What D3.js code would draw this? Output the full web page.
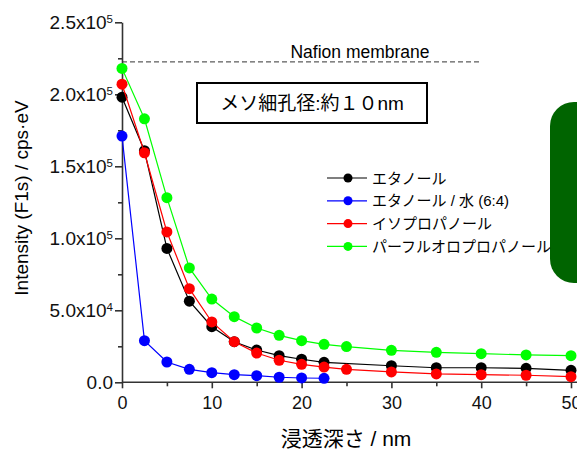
<!DOCTYPE html>
<html>
<head>
<meta charset="utf-8">
<script src="https://cdn.jsdelivr.net/npm/d3@7"></script>
<style>
  body { margin: 0; background: #fff; }
  svg { display: block; font-family: "Liberation Sans", Arial, "Noto Sans CJK JP", sans-serif; }
</style>
</head>
<body>
<div id="chart"></div>
<script>
// depth values (nm)
const depthFull = [0, 2.5, 5, 7.5, 10, 12.5, 15, 17.5, 20, 22.5, 25, 30, 35, 40, 45, 50];
const depthEthanol = [0, 2.5, 5, 7.5, 10, 12.5, 15, 17.5, 20, 22.5, 30, 35, 40, 45, 50];
const depthWater = [0, 2.5, 5, 7.5, 10, 12.5, 15, 17.5, 20, 22.5];

// intensities
const ethanol = [198000, 160800, 93000, 56300, 38600, 28200, 22400, 18500, 16000, 13900, 11500, 10100, 10100, 9700, 8300];
const ethanolWater = [171000, 28900, 14100, 9000, 6700, 5300, 4600, 3500, 3000, 2800];
const isopropanol = [207000, 159400, 104400, 65000, 41900, 28200, 20300, 15300, 12500, 10600, 9000, 7200, 5800, 5300, 4900, 3900];
const perfluoro = [218000, 183000, 128200, 79400, 57800, 45600, 37700, 32600, 28900, 26400, 24800, 22200, 20800, 19900, 19000, 18500];

const seriesNames = ["エタノール", "エタノール / 水 (6:4)", "イソプロパノール", "パーフルオロプロパノール"];
const seriesColors = ["#000000", "#0000ff", "#ff0000", "#00ff00"];

const xTicks = [0, 10, 20, 30, 40, 50];
const xMinorTicks = [5, 15, 25, 35, 45];
const yTicks = [0, 50000, 100000, 150000, 200000, 250000];
const yTickMantissa = ["0.0", "5.0x10", "1.0x10", "1.5x10", "2.0x10", "2.5x10"];
const yTickExponent = ["", "4", "5", "5", "5", "5"];
const yMinorTicks = [25000, 75000, 125000, 175000, 225000];

const membraneLevel = 222500;
const membraneEnd = 40;

const W = 577, H = 452;
const svg = d3.select("#chart").append("svg")
    .attr("width", W)
    .attr("height", H);

// scales
const x = d3.scaleLinear().domain([0, 50]).range([122, 571]);
const y = d3.scaleLinear().domain([0, 250000]).range([382.3, 22.3]);

// green side box (cut off at right edge)
svg.append("rect")
    .attr("x", 550).attr("y", 102)
    .attr("width", 70).attr("height", 181)
    .attr("rx", 24).attr("ry", 24)
    .attr("fill", "#006400");

// dashed Nafion line
svg.append("line")
    .attr("x1", x(0)).attr("x2", x(membraneEnd))
    .attr("y1", y(membraneLevel)).attr("y2", y(membraneLevel))
    .attr("stroke", "#333")
    .attr("stroke-width", 1)
    .attr("stroke-dasharray", "5,3");

svg.append("text")
    .attr("x", 360).attr("y", 58)
    .attr("text-anchor", "middle")
    .attr("font-size", 17.5)
    .text("Nafion membrane");

// pore size box
svg.append("rect")
    .attr("x", 197).attr("y", 83)
    .attr("width", 230).attr("height", 40)
    .attr("fill", "#fff")
    .attr("stroke", "#000")
    .attr("stroke-width", 2);

svg.append("text")
    .attr("x", 312).attr("y", 110)
    .attr("text-anchor", "middle")
    .attr("font-size", 19)
    .text("メソ細孔径:約１０nm");

// axes
const yAxis = svg.append("g")
    .attr("transform", `translate(${x(0)},0)`)
    .call(d3.axisLeft(y).tickValues(yTicks).tickSize(7).tickSizeOuter(0).tickPadding(2));

yAxis.selectAll(".tick text")
    .attr("font-size", 19)
    .attr("fill", "#111")
    .text(null)
    .each(function(d, i) {
        const t = d3.select(this);
        t.append("tspan").text(yTickMantissa[i]);
        if (yTickExponent[i]) {
            t.append("tspan")
                .attr("font-size", 11.5)
                .attr("dy", "-0.55em")
                .text(yTickExponent[i]);
        }
    });

svg.append("g")
    .attr("transform", `translate(${x(0)},0)`)
    .call(d3.axisLeft(y).tickValues(yMinorTicks).tickSize(4).tickFormat(""))
    .select(".domain").remove();

const xAxis = svg.append("g")
    .attr("transform", `translate(0,${y(0)})`)
    .call(d3.axisBottom(x).tickValues(xTicks).tickSize(6).tickSizeOuter(0).tickPadding(8));

xAxis.selectAll(".tick text")
    .attr("font-size", 18)
    .attr("fill", "#111");

svg.append("g")
    .attr("transform", `translate(0,${y(0)})`)
    .call(d3.axisBottom(x).tickValues(xMinorTicks).tickSize(4).tickFormat(""))
    .select(".domain").remove();

svg.selectAll(".domain, .tick line")
    .attr("stroke", "#333")
    .attr("stroke-width", 1.6);

// extend x axis line a little past 50
xAxis.select(".domain").attr("d", `M${x(0)},0H${W}`);

// axis titles
svg.append("text")
    .attr("transform", `translate(28,198) rotate(-90)`)
    .attr("text-anchor", "middle")
    .attr("font-size", 19)
    .text("Intensity (F1s) / cps·eV");

svg.append("text")
    .attr("x", 346).attr("y", 446)
    .attr("text-anchor", "middle")
    .attr("font-size", 21)
    .text("浸透深さ / nm");

// series
const series = [
    {name: seriesNames[0], color: seriesColors[0], xs: depthEthanol, ys: ethanol},
    {name: seriesNames[1], color: seriesColors[1], xs: depthWater, ys: ethanolWater},
    {name: seriesNames[2], color: seriesColors[2], xs: depthFull, ys: isopropanol},
    {name: seriesNames[3], color: seriesColors[3], xs: depthFull, ys: perfluoro}
];

const line = d3.line()
    .x(d => x(d[0]))
    .y(d => y(d[1]));

series.forEach(s => {
    const pts = s.xs.map((v, i) => [v, s.ys[i]]);
    svg.append("path")
        .datum(pts)
        .attr("fill", "none")
        .attr("stroke", s.color)
        .attr("stroke-width", 1.2)
        .attr("d", line);
    svg.append("g")
        .selectAll("circle")
        .data(pts)
        .join("circle")
        .attr("cx", d => x(d[0]))
        .attr("cy", d => y(d[1]))
        .attr("r", 5.5)
        .attr("fill", s.color);
});

// legend
const legend = svg.append("g").attr("transform", "translate(327,178)");
series.forEach((s, i) => {
    const g = legend.append("g").attr("transform", `translate(0,${i * 22.8})`);
    g.append("line")
        .attr("x1", 0).attr("x2", 40)
        .attr("stroke", s.color)
        .attr("stroke-width", 1.2);
    g.append("circle")
        .attr("cx", 21).attr("r", 4.5)
        .attr("fill", s.color);
    g.append("text")
        .attr("x", 45).attr("y", 5.5)
        .attr("font-size", 15)
        .text(s.name);
});
</script>
</body>
</html>
